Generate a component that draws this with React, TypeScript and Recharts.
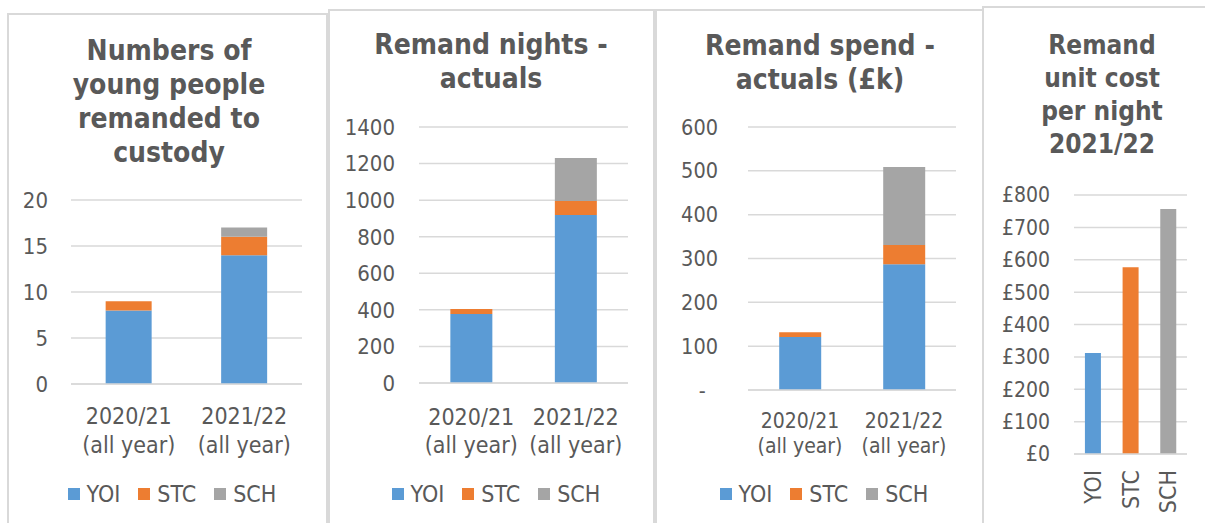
import React from "react";
import { BarChart, Bar, XAxis, YAxis, CartesianGrid, Legend, Cell } from "recharts";

const FONT = '"DejaVu Sans Condensed", "DejaVu Sans", sans-serif';
const TEXT = "#595959";
const GRID = "#d9d9d9";

// series + colours (Excel default palette)
const seriesNames = ["YOI", "STC", "SCH"];
const seriesColors = ["#5B9BD5", "#ED7D31", "#A5A5A5"];

const years = ["2020/21 (all year)", "2021/22 (all year)"];

// numbers of young people remanded to custody
const peopleYOI = [8, 14];
const peopleSTC = [1, 2];
const peopleSCH = [0, 1];

// remand nights
const nightsYOI = [377, 919];
const nightsSTC = [28, 76];
const nightsSCH = [0, 235];

// remand spend (£k)
const spendYOI = [121, 287];
const spendSTC = [11, 44];
const spendSCH = [0, 178];

// unit cost per night 2021/22
const unitTypes = ["YOI", "STC", "SCH"];
const unitCost = [312, 577, 757];

const buildRows = (yoi: number[], stc: number[], sch: number[]) =>
  years.map((year, i) => ({ year, YOI: yoi[i], STC: stc[i], SCH: sch[i] }));

const peopleData = buildRows(peopleYOI, peopleSTC, peopleSCH);
const nightsData = buildRows(nightsYOI, nightsSTC, nightsSCH);
const spendData = buildRows(spendYOI, spendSTC, spendSCH);
const costData = unitTypes.map((type, i) => ({ type, cost: unitCost[i] }));

interface PanelBox {
  left: number;
  top: number;
  width: number;
}

function Frame({ left, top, width }: PanelBox) {
  return (
    <div
      style={{
        position: "absolute",
        left,
        top,
        width,
        height: 540,
        border: `2px solid ${GRID}`,
        boxSizing: "border-box",
      }}
    />
  );
}

function Title({ lines, center, top, size, lineHeight }: {
  lines: string[];
  center: number;
  top: number;
  size: number;
  lineHeight: number;
}) {
  return (
    <div
      style={{
        position: "absolute",
        left: center - 150,
        top,
        width: 300,
        textAlign: "center",
        fontFamily: FONT,
        fontWeight: "bold",
        fontSize: size,
        lineHeight: `${lineHeight}px`,
        color: TEXT,
      }}
    >
      {lines.map((l) => (
        <div key={l}>{l}</div>
      ))}
    </div>
  );
}

function YearTick(props: any) {
  const { x, y, payload, fontSize, gap1, gap2 } = props;
  const parts = String(payload.value).split(" ");
  return (
    <text textAnchor="middle" fill={TEXT} fontSize={fontSize} fontFamily={FONT}>
      <tspan x={x} y={y + gap1}>{parts[0]}</tspan>
      <tspan x={x} y={y + gap2}>{parts.slice(1).join(" ")}</tspan>
    </text>
  );
}

function LegendRow({ fontSize }: { fontSize: number }) {
  return (
    <div
      style={{
        display: "flex",
        justifyContent: "center",
        alignItems: "center",
        height: 26,
        fontFamily: FONT,
        fontSize,
        color: TEXT,
      }}
    >
      {seriesNames.map((name, i) => (
        <div key={name} style={{ display: "flex", alignItems: "center", marginRight: i < 2 ? 18 : 0 }}>
          <span style={{ width: 12, height: 12, background: seriesColors[i], marginRight: 7, display: "inline-block" }} />
          <span>{name}</span>
        </div>
      ))}
    </div>
  );
}

interface StackedProps {
  data: any[];
  chartX: number;
  chartW: number;
  plotL: number;
  plotR: number;
  plotT: number;
  plotB: number;
  domain: [number, number];
  ticks: number[];
  yFont: number;
  yGap: number;
  xFont: number;
  gap1: number;
  gap2: number;
  legendCenter: number;
  fmt?: (v: number) => string;
}

const H = 523;
const LEGEND_BOTTOM = 16;
const LEGEND_H = 26;

function StackedPanel(p: StackedProps) {
  const xAxisH = H - LEGEND_BOTTOM - LEGEND_H - p.plotB;
  return (
    <div style={{ position: "absolute", left: p.chartX, top: 0 }}>
      <BarChart
        width={p.chartW}
        height={H}
        data={p.data}
        barCategoryGap="30%"
        margin={{ top: p.plotT, right: p.chartX + p.chartW - p.plotR, bottom: LEGEND_BOTTOM, left: 0 }}
      >
        <CartesianGrid vertical={false} stroke={GRID} strokeWidth={1.5} />
        <XAxis
          dataKey="year"
          height={xAxisH}
          axisLine={{ stroke: GRID, strokeWidth: 1.5 }}
          tickLine={false}
          tickSize={0}
          tickMargin={0}
          interval={0}
          tick={(t: any) => <YearTick {...t} fontSize={p.xFont} gap1={p.gap1} gap2={p.gap2} />}
        />
        <YAxis
          width={p.plotL - p.chartX}
          domain={p.domain}
          ticks={p.ticks}
          interval={0}
          axisLine={false}
          tickLine={false}
          tickSize={0}
          tickMargin={p.yGap}
          tickFormatter={p.fmt}
          tick={{ fill: TEXT, fontSize: p.yFont, fontFamily: FONT }}
        />
        <Legend
          verticalAlign="bottom"
          wrapperStyle={{ left: p.legendCenter - p.chartX - 150, width: 300 }}
          content={() => <LegendRow fontSize={23} />}
        />
        {seriesNames.map((name, i) => (
          <Bar key={name} dataKey={name} stackId="a" fill={seriesColors[i]} isAnimationActive={false} />
        ))}
      </BarChart>
    </div>
  );
}

function CostTick(props: any) {
  const { x, y, payload } = props;
  const py = y + 16;
  return (
    <text
      x={x}
      y={py}
      dy="0.35em"
      textAnchor="end"
      transform={`rotate(-90 ${x} ${py})`}
      fill={TEXT}
      fontSize={23}
      fontFamily={FONT}
    >
      {payload.value}
    </text>
  );
}

function CostPanel() {
  const chartX = 985;
  const chartW = 218;
  const plotL = 1074;
  const plotR = 1187;
  const plotT = 195;
  const plotB = 454;
  return (
    <div style={{ position: "absolute", left: chartX, top: 0 }}>
      <BarChart
        width={chartW}
        height={H}
        data={costData}
        barCategoryGap="29%"
        margin={{ top: plotT, right: chartX + chartW - plotR, bottom: 0, left: 0 }}
      >
        <CartesianGrid vertical={false} stroke={GRID} strokeWidth={1.5} />
        <XAxis
          dataKey="type"
          height={H - plotB}
          axisLine={{ stroke: GRID, strokeWidth: 1.5 }}
          tickLine={false}
          tickSize={0}
          tickMargin={0}
          interval={0}
          tick={(t: any) => <CostTick {...t} />}
        />
        <YAxis
          width={plotL - chartX}
          domain={[0, 800]}
          ticks={[0, 100, 200, 300, 400, 500, 600, 700, 800]}
          interval={0}
          axisLine={false}
          tickLine={false}
          tickSize={0}
          tickMargin={24}
          tickFormatter={(v: number) => `£${v}`}
          tick={{ fill: TEXT, fontSize: 21, fontFamily: FONT }}
        />
        <Bar dataKey="cost" isAnimationActive={false}>
          {costData.map((d, i) => (
            <Cell key={d.type} fill={seriesColors[i]} />
          ))}
        </Bar>
      </BarChart>
    </div>
  );
}

export default function App() {
  return (
    <div
      style={{
        position: "absolute",
        left: 0,
        top: 0,
        width: 1205,
        height: 523,
        overflow: "hidden",
        background: "#fff",
      }}
    >
      <Frame left={7} top={13} width={321} />
      <Frame left={328} top={9} width={327} />
      <Frame left={655} top={9} width={329} />
      <Frame left={982} top={6} width={240} />

      <Title lines={["Numbers of", "young people", "remanded to", "custody"]} center={169} top={34} size={28} lineHeight={34} />
      <Title lines={["Remand nights -", "actuals"]} center={491} top={28} size={28} lineHeight={34} />
      <Title lines={["Remand spend -", "actuals (£k)"]} center={820} top={29} size={28} lineHeight={34} />
      <Title lines={["Remand", "unit cost", "per night", "2021/22"]} center={1102} top={29} size={26} lineHeight={33} />

      <StackedPanel
        data={peopleData}
        chartX={8}
        chartW={318}
        plotL={71}
        plotR={302}
        plotT={200}
        plotB={384}
        domain={[0, 20]}
        ticks={[0, 5, 10, 15, 20]}
        yFont={22}
        yGap={23}
        xFont={23}
        gap1={40}
        gap2={69}
        legendCenter={172}
      />
      <StackedPanel
        data={nightsData}
        chartX={330}
        chartW={322}
        plotL={419}
        plotR={628}
        plotT={127}
        plotB={383}
        domain={[0, 1400]}
        ticks={[0, 200, 400, 600, 800, 1000, 1200, 1400]}
        yFont={22}
        yGap={24}
        xFont={23}
        gap1={42}
        gap2={70}
        legendCenter={496}
      />
      <StackedPanel
        data={spendData}
        chartX={658}
        chartW={323}
        plotL={748}
        plotR={956}
        plotT={127}
        plotB={390}
        domain={[0, 600]}
        ticks={[0, 100, 200, 300, 400, 500, 600]}
        yFont={21.5}
        yGap={30}
        xFont={21}
        gap1={38}
        gap2={63}
        legendCenter={824}
        fmt={(v: number) => (v === 0 ? "-\u00a0\u00a0" : String(v))}
      />
      <CostPanel />
    </div>
  );
}
